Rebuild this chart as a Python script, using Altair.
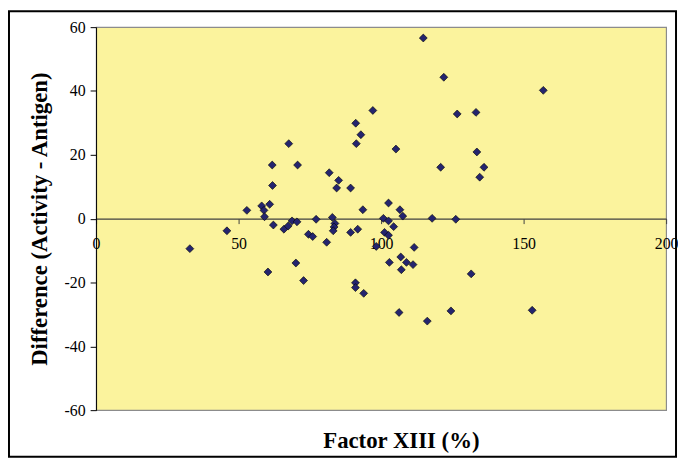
import altair as alt
import pandas as pd

factor_xiii = [32.9, 45.9, 52.9, 58.1, 60.9, 58.9, 59.1, 61.8, 61.9, 62.2,
               60.3, 65.9, 67.4, 68.75, 70.5, 67.6, 70.7, 70.1, 72.8, 74.5,
               76.0, 77.2, 80.9, 81.8, 85.1, 84.4, 82.9, 83.8, 83.5, 83.2,
               89.3, 89.3, 91.8, 93.6, 91.0, 91.0, 93.9, 91.1, 92.9, 91.3,
               97.1, 98.3, 100.8, 102.6, 102.6, 104.4, 101.2, 102.6, 105.2, 106.6,
               107.6, 102.9, 106.9, 108.9, 111.2, 107.1, 111.6, 106.3, 114.8, 116.2,
               117.9, 120.9, 122.0, 124.5, 126.2, 126.7, 131.6, 133.3, 133.6, 134.6,
               136.1, 153.0, 156.9]
difference = [-9.4, -3.8, 2.6, 4.0, 4.5, 2.6, 0.6, 16.8, 10.4, -2.0,
              -16.7, -3.3, -2.3, -0.7, -1.0, 23.5, 16.8, -13.9, -19.4, -4.9,
              -5.6, -0.2, -7.4, 14.4, 12.0, 9.6, 0.4, -1.5, -2.6, -3.8,
              9.6, -4.3, -3.3, 2.8, -20.1, -21.6, -23.4, 29.9, 26.3, 23.5,
              33.9, -8.7, 0.1, -0.7, 4.9, -2.5, -4.3, -5.2, 21.8, 2.8,
              0.8, -13.7, -12.0, -13.7, -14.4, -16.0, -9.0, -29.4, 56.6, -32.1,
              0.1, 16.1, 44.3, -28.9, -0.2, 32.8, -17.3, 33.3, 20.9, 13.0,
              16.1, -28.7, 40.2]

x_ticks = [0, 50, 100, 150, 200]
y_ticks = [-60, -40, -20, 0, 20, 40, 60]

df = pd.DataFrame({"x": factor_xiii, "y": difference})

W, H = 576, 387
FONT = "Liberation Serif"

points = alt.Chart(df).mark_point(
    shape="diamond", filled=True, size=64, fill="#24246e",
    stroke="#000000", strokeWidth=0.6, opacity=1
).encode(
    x=alt.X("x:Q",
            scale=alt.Scale(domain=[0, 200], nice=False, zero=False),
            axis=alt.Axis(values=x_ticks, title="Factor XIII (%)",
                          offset=-193.5, grid=False,
                          domainColor="#404040", domainWidth=1.2,
                          tickColor="#404040", tickSize=5, tickWidth=1,
                          labelFont=FONT, labelFontSize=16, labelColor="#000000",
                          labelPadding=12, labelFlush=False, labelOverlap=False,
                          labelExpr="'' + datum.value",
                          titleFont=FONT, titleFontSize=23, titleFontWeight="bold",
                          titleColor="#000000", titleX=308, titleY=224.5,
                          titleBaseline="middle", titleAlign="center")),
    y=alt.Y("y:Q",
            scale=alt.Scale(domain=[-60, 60], nice=False, zero=False),
            axis=alt.Axis(values=y_ticks, title="Difference (Activity - Antigen)",
                          grid=False, domainColor="#000000", domainWidth=1,
                          tickColor="#000000", tickSize=6, tickWidth=1,
                          labelFont=FONT, labelFontSize=16, labelColor="#000000",
                          labelPadding=5, labelFlush=False, labelOverlap=False,
                          labelExpr="'' + datum.value",
                          titleFont=FONT, titleFontSize=23, titleFontWeight="bold",
                          titleColor="#000000", titleX=-57, titleY=193.5,
                          titleAngle=270, titleBaseline="middle", titleAlign="center")),
)

border = alt.Chart(pd.DataFrame({"a": [0]})).mark_rect(
    fill="transparent", stroke="#000000", strokeWidth=2, clip=False
).encode(
    x=alt.value(-88), x2=alt.value(W + 10),
    y=alt.value(-16), y2=alt.value(H + 47),
)

chart = alt.layer(points, border).properties(
    width=W, height=H,
    autosize=alt.AutoSizeParams(type="none"),
    padding={"left": 89, "top": 17, "right": 12, "bottom": 48},
    background="#ffffff",
).configure_view(
    fill="#FBF39D", stroke="#8c8c8c", strokeWidth=1.2
)

chart.save("out.html", embed_options={"renderer": "svg", "actions": False})
